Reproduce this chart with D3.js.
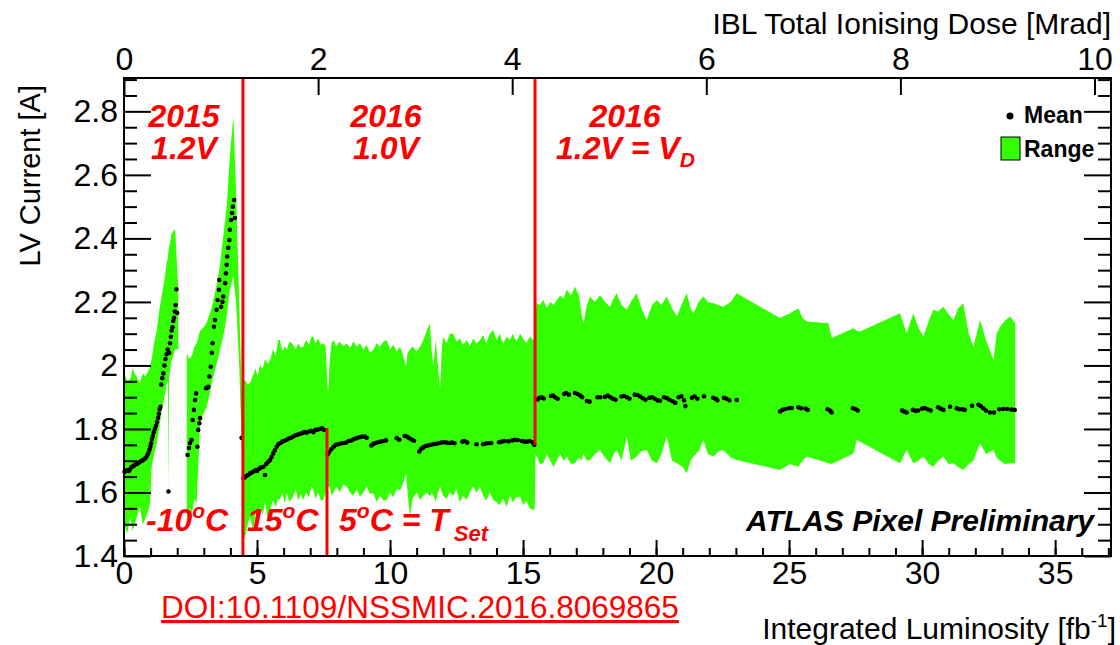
<html>
<head>
  <title>IBL LV current vs integrated luminosity</title>
  <script src="https://d3js.org/d3.v7.min.js"></script>
  <style>
  body { margin: 0; background: #fff; }
  text { font-family: "Liberation Sans", Arial, Helvetica, sans-serif; }
  .ann { fill: #ff0000; font-weight: bold; font-style: italic; font-size: 32px; }
  </style>
</head>
<body>
<div id="chart"></div>
<script>

// axis ticks
var lumiMajor = [0, 5, 10, 15, 20, 25, 30, 35];
var lumiMinor = d3.range(0, 38, 1);
var doseTicks = [0, 2, 4, 6, 8, 10];
var currMajor = [1.4, 1.6, 1.8, 2.0, 2.2, 2.4, 2.6, 2.8];
var currMinor = [1.45, 1.5, 1.55, 1.65, 1.7, 1.75, 1.85, 1.9, 1.95, 2.05, 2.1, 2.15,
                 2.25, 2.3, 2.35, 2.45, 2.5, 2.55, 2.65, 2.7, 2.75, 2.85, 2.9];

// range band (min / max), null = gap
var bandLumi = [0.00,0.12,0.23,0.32,0.41,0.50,0.60,0.70,0.79,0.90,0.98,1.04,1.13,1.23,1.32,1.42,1.52,1.60,1.65,1.67,1.69,1.79,1.92,2.04,
  null,
  2.36,2.45,2.55,2.65,2.73,2.80,2.86,3.00,3.11,3.25,3.36,3.50,3.61,3.75,3.86,3.98,4.11,4.21,4.33,4.42,
  4.50,4.55,4.65,4.74,4.85,4.95,5.02,5.11,5.22,5.30,5.40,5.49,5.60,5.70,5.79,5.86,5.95,6.05,6.12,6.22,6.36,6.45,6.55,6.65,6.74,6.85,6.95,7.05,7.12,7.20,7.30,7.40,7.49,7.58,7.64,7.68,7.72,7.80,7.87,7.98,
  8.10,8.25,8.37,8.50,8.62,8.75,8.87,9.00,9.12,9.25,9.37,9.50,9.62,9.75,9.88,10.00,10.12,10.25,10.38,10.50,10.60,10.66,10.75,10.85,11.00,11.13,11.25,11.38,11.50,11.56,11.63,11.72,11.80,11.88,11.95,
  12.00,12.12,12.25,12.38,12.50,12.62,12.75,12.88,13.00,13.12,13.25,13.38,13.50,13.62,13.75,13.88,14.00,14.12,14.25,14.39,14.50,14.62,14.75,14.89,15.00,15.12,15.25,15.39,15.44,
  15.47,15.52,15.64,15.76,15.90,16.02,16.15,16.27,16.40,16.52,16.64,16.80,16.95,17.10,17.20,17.27,17.40,17.52,17.70,17.89,18.08,18.27,18.40,18.52,18.70,18.90,19.05,19.27,19.45,19.65,19.85,
  20.03,20.20,20.40,20.60,20.78,21.00,21.15,21.30,21.40,21.60,21.78,21.95,22.15,22.35,22.53,22.80,23.03,24.66,25.04,25.35,25.50,25.67,26.48,26.60,27.42,27.54,27.67,
  29.17,29.42,29.67,29.85,30.05,30.25,30.42,30.60,30.80,31.00,31.18,31.35,31.55,31.75,31.93,32.05,32.18,32.40,32.68,32.80,32.93,33.10,33.31,33.50];
var bandLo = [1.50,1.47,1.52,1.48,1.50,1.53,1.555,1.50,1.515,1.54,1.565,1.68,1.72,1.755,1.80,1.86,1.90,1.94,1.95,1.60,1.96,2.015,2.05,2.05,
  null,
  1.51,1.55,1.535,1.58,1.565,1.70,1.82,1.85,1.87,1.92,1.965,2.01,2.05,2.10,2.155,2.24,2.28,2.20,2.00,1.765,
  1.45,1.46,1.50,1.525,1.48,1.54,1.50,1.555,1.53,1.57,1.52,1.545,1.575,1.555,1.58,1.576,1.60,1.565,1.598,1.57,1.587,1.61,1.575,1.595,1.576,1.60,1.585,1.62,1.608,1.58,1.60,1.575,1.576,1.60,1.61,1.618,1.62,1.59,1.598,1.62,
  1.60,1.625,1.618,1.60,1.59,1.61,1.587,1.60,1.62,1.595,1.598,1.57,1.59,1.575,1.576,1.60,1.585,1.61,1.608,1.63,1.66,1.60,1.524,1.58,1.60,1.576,1.59,1.60,1.587,1.60,1.59,1.57,1.60,1.62,1.60,
  1.59,1.58,1.60,1.59,1.61,1.57,1.59,1.576,1.60,1.62,1.60,1.618,1.59,1.575,1.60,1.576,1.57,1.56,1.58,1.555,1.59,1.57,1.585,1.587,1.56,1.575,1.55,1.545,1.55,
  1.72,1.713,1.69,1.692,1.72,1.70,1.68,1.702,1.72,1.70,1.713,1.69,1.692,1.71,1.70,1.723,1.70,1.702,1.72,1.734,1.71,1.692,1.72,1.734,1.70,1.776,1.70,1.713,1.73,1.734,1.70,
  1.692,1.72,1.776,1.70,1.692,1.68,1.66,1.70,1.713,1.73,1.765,1.72,1.713,1.73,1.734,1.71,1.702,1.671,1.69,1.681,1.70,1.713,1.692,1.69,1.723,1.765,1.76,
  1.692,1.734,1.692,1.70,1.713,1.69,1.681,1.70,1.713,1.69,1.692,1.68,1.671,1.69,1.70,1.73,1.755,1.72,1.734,1.71,1.70,1.69,1.692,1.692];
var bandHi = [1.98,1.95,1.955,1.99,1.975,1.96,1.945,1.975,1.965,1.98,1.995,2.02,2.07,2.11,2.17,2.22,2.27,2.32,2.34,2.36,2.37,2.415,2.43,2.24,
  null,
  2.04,2.02,2.03,2.06,2.07,2.09,2.11,2.12,2.135,2.17,2.205,2.26,2.32,2.42,2.50,2.66,2.785,2.55,2.20,1.92,
  1.95,1.955,1.94,1.945,1.97,1.99,1.965,2.00,1.99,2.02,2.005,2.017,2.05,2.03,2.08,2.08,2.045,2.06,2.049,2.075,2.065,2.05,2.07,2.055,2.059,2.08,2.065,2.09,2.091,2.07,2.085,2.065,2.07,2.06,1.95,1.912,2.00,2.07,2.08,2.06,
  2.075,2.06,2.07,2.055,2.075,2.06,2.07,2.05,2.065,2.04,2.049,2.07,2.06,2.075,2.08,2.05,2.065,2.045,2.059,2.03,1.996,2.04,2.05,2.06,2.045,2.059,2.08,2.11,2.133,2.05,1.996,2.08,2.00,1.923,2.06,
  2.09,2.07,2.10,2.10,2.075,2.085,2.065,2.08,2.06,2.085,2.07,2.08,2.095,2.07,2.10,2.112,2.08,2.10,2.07,2.09,2.08,2.10,2.075,2.10,2.085,2.07,2.09,2.08,2.09,
  2.17,2.196,2.19,2.206,2.18,2.20,2.19,2.206,2.22,2.21,2.238,2.22,2.248,2.22,2.16,2.133,2.19,2.217,2.20,2.222,2.20,2.185,2.21,2.227,2.19,2.175,2.20,2.227,2.18,2.143,2.19,
  2.206,2.19,2.217,2.18,2.154,2.20,2.227,2.18,2.164,2.20,2.217,2.20,2.196,2.19,2.185,2.20,2.227,2.149,2.164,2.18,2.15,2.138,2.133,2.086,2.117,2.11,2.107,
  2.164,2.101,2.164,2.12,2.091,2.14,2.175,2.17,2.185,2.16,2.143,2.18,2.196,2.10,2.059,2.10,2.143,2.08,2.017,2.10,2.122,2.14,2.154,2.133];

// mean current per fill
var meanLumi = [0.02,0.08,0.12,0.18,0.22,0.28,0.33,0.38,0.43,0.48,0.53,0.58,0.63,0.68,0.73,0.78,0.83,0.88,0.92,0.96,0.99,1.02,1.05,1.08,1.12,1.16,1.20,1.24,1.28,1.31,1.34,1.37,1.40,1.44,1.48,1.52,1.56,1.60,1.64,1.67,1.70,1.73,1.76,1.79,1.82,1.85,1.88,1.91,1.94,1.97,2.00,
  2.39,2.44,2.48,2.54,2.58,2.63,2.67,2.71,2.76,2.79,2.83,2.86,3.08,3.13,3.17,3.21,3.26,3.30,3.33,3.38,3.42,3.48,3.52,3.57,3.58,3.65,3.70,3.73,3.80,3.83,3.86,3.88,3.92,3.96,3.98,4.02,4.06,4.09,4.14,4.17,
  4.42,4.49,4.55,4.60,4.66,4.74,4.80,4.88,4.95,5.00,5.08,5.15,5.24,5.30,5.35,5.42,5.49,5.55,5.61,5.67,5.74,5.80,5.88,5.95,6.03,6.12,6.20,6.28,6.36,6.45,6.53,6.62,6.70,6.78,6.86,6.95,7.03,7.12,7.20,7.28,7.36,7.44,7.52,
  7.66,7.72,7.80,7.88,7.96,8.05,8.15,8.25,8.35,8.45,8.55,8.65,8.75,8.85,8.95,9.05,9.12,9.30,9.37,9.45,9.55,9.65,9.75,9.85,10.25,10.35,10.55,10.63,10.72,10.82,10.90,
  11.10,11.18,11.25,11.33,11.42,11.52,11.62,11.72,11.82,11.92,12.02,12.12,12.22,12.32,12.42,12.72,12.80,12.90,13.25,13.50,13.60,13.70,13.80,14.10,14.20,14.30,14.45,14.60,14.70,14.80,14.95,15.05,15.15,15.25,15.35,15.42,
  15.55,15.62,15.70,15.78,16.05,16.12,16.20,16.30,16.55,16.62,16.72,16.95,17.05,17.15,17.22,17.40,17.50,17.80,17.90,18.08,18.18,18.28,18.38,18.48,18.70,18.80,18.90,19.00,19.20,19.30,19.40,19.50,19.60,19.75,19.85,19.95,
  20.05,20.15,20.30,20.40,20.50,20.62,20.72,20.85,20.95,21.05,21.10,21.35,21.45,21.55,21.80,22.15,22.25,22.30,22.55,22.65,22.75,23.03,
  24.66,24.75,24.85,25.00,25.10,25.35,25.45,25.62,25.70,26.45,26.55,26.60,27.40,27.50,27.58,
  29.25,29.33,29.42,29.65,29.75,29.85,30.00,30.10,30.20,30.32,30.60,30.70,30.80,31.05,31.30,31.40,31.50,31.60,31.88,32.12,32.20,32.30,32.40,32.55,32.70,32.90,33.05,33.20,33.35,33.48];
var meanVal = [1.665,1.668,1.670,1.668,1.672,1.680,1.682,1.685,1.688,1.690,1.692,1.695,1.698,1.700,1.703,1.706,1.710,1.718,1.725,1.735,1.745,1.755,1.768,1.778,1.790,1.800,1.810,1.822,1.835,1.848,1.862,1.870,1.940,1.960,1.975,2.000,2.020,2.035,2.050,1.603,2.040,2.070,2.090,2.110,2.120,2.140,2.150,2.170,2.190,2.240,2.165,
  1.718,1.740,1.755,1.765,1.828,1.860,1.891,1.912,1.744,1.797,1.818,1.834,1.928,1.930,1.933,1.965,1.996,2.040,2.070,2.122,2.143,2.175,2.206,2.238,2.269,2.185,2.200,2.217,2.259,2.290,2.317,2.343,2.370,2.395,2.427,2.458,2.480,2.500,2.521,2.464,
  1.772,1.645,1.648,1.652,1.655,1.660,1.663,1.667,1.671,1.668,1.675,1.679,1.681,1.655,1.690,1.697,1.702,1.712,1.723,1.733,1.744,1.752,1.756,1.760,1.763,1.766,1.770,1.772,1.776,1.780,1.782,1.785,1.787,1.790,1.788,1.792,1.794,1.790,1.797,1.798,1.800,1.802,1.797,
  1.720,1.728,1.737,1.744,1.750,1.752,1.754,1.756,1.757,1.762,1.764,1.768,1.771,1.774,1.776,1.776,1.772,1.748,1.753,1.756,1.758,1.760,1.762,1.764,1.771,1.766,1.778,1.776,1.771,1.766,1.763,
  1.729,1.738,1.742,1.746,1.748,1.750,1.752,1.753,1.755,1.757,1.758,1.757,1.756,1.757,1.755,1.760,1.762,1.757,1.752,1.752,1.754,1.755,1.756,1.758,1.760,1.762,1.761,1.764,1.766,1.765,1.762,1.760,1.760,1.762,1.758,1.750,
  1.893,1.898,1.900,1.896,1.904,1.906,1.900,1.895,1.910,1.913,1.908,1.913,1.910,1.905,1.900,1.888,1.886,1.900,1.900,1.901,1.905,1.900,1.895,1.892,1.902,1.904,1.900,1.895,1.908,1.907,1.902,1.897,1.892,1.898,1.900,1.895,
  1.890,1.889,1.900,1.897,1.892,1.887,1.882,1.900,1.903,1.890,1.872,1.898,1.902,1.895,1.903,1.898,1.894,1.890,1.898,1.895,1.890,1.891,
  1.855,1.860,1.863,1.865,1.866,1.868,1.865,1.864,1.860,1.862,1.857,1.852,1.865,1.862,1.858,
  1.858,1.855,1.852,1.860,1.857,1.858,1.864,1.866,1.862,1.858,1.868,1.864,1.860,1.870,1.865,1.862,1.862,1.860,1.873,1.876,1.872,1.865,1.858,1.852,1.852,1.862,1.863,1.863,1.861,1.860];

// period boundaries (red lines): lumi, current from, current to
var boundLumi = [4.47, 15.45, 7.63];
var boundLo = [1.4, 1.75, 1.4];
var boundHi = [2.905, 2.905, 1.803];

var W = 1120, H = 645;
var L = 124, R = 1111, T = 78, B = 556;
var green = "#33ff00";

var svg = d3.select("#chart").append("svg").attr("width", W).attr("height", H);

var x = d3.scaleLinear().domain([0, 37.1]).range([L, R]);
var xDose = d3.scaleLinear().domain([0, 10.17]).range([L, R]);
var y = d3.scaleLinear().domain([1.4, 2.905]).range([B, T]);

var band = bandLumi.map(function(d, i) { return {x: d, lo: bandLo[i], hi: bandHi[i]}; });
var area = d3.area()
  .defined(function(d) { return d.x != null; })
  .x(function(d) { return x(d.x); })
  .y0(function(d) { return y(d.lo); })
  .y1(function(d) { return y(d.hi); });

svg.append("path").datum(band).attr("d", area).attr("fill", green).attr("stroke", "none");

// mean markers
svg.selectAll("circle.mean").data(meanLumi).enter().append("circle")
  .attr("class", "mean")
  .attr("cx", function(d) { return x(d); })
  .attr("cy", function(d, i) { return y(meanVal[i]); })
  .attr("r", 2.3)
  .attr("fill", "black");

// red boundaries
svg.selectAll("line.bound").data(boundLumi).enter().append("line")
  .attr("x1", function(d) { return x(d); }).attr("x2", function(d) { return x(d); })
  .attr("y1", function(d, i) { return y(boundLo[i]); })
  .attr("y2", function(d, i) { return y(boundHi[i]); })
  .attr("stroke", "#ff0000").attr("stroke-width", 3);

// axes
function styleAxis(g, fs) {
  g.select(".domain").remove();
  g.selectAll(".tick line").attr("stroke", "black").attr("stroke-width", 2);
  g.selectAll(".tick text").attr("font-size", fs).attr("fill", "black")
    .attr("font-family", "'Liberation Sans', Arial, Helvetica, sans-serif");
}

var gb = svg.append("g").attr("transform", "translate(0," + B + ")")
  .call(d3.axisBottom(x).tickValues(lumiMinor.filter(function(d) { return x(d) < R - 1; })).tickSize(-8).tickFormat(""));
styleAxis(gb, 32);
var gb2 = svg.append("g").attr("transform", "translate(0," + B + ")")
  .call(d3.axisBottom(x).tickValues(lumiMajor).tickSize(-16).tickPadding(5).tickFormat(d3.format("d")));
styleAxis(gb2, 32);

var gt = svg.append("g").attr("transform", "translate(0," + T + ")")
  .call(d3.axisTop(xDose).tickValues(doseTicks).tickSize(-17).tickPadding(8).tickFormat(d3.format("d")));
styleAxis(gt, 32);

var gl = svg.append("g").attr("transform", "translate(" + L + ",0)")
  .call(d3.axisLeft(y).tickValues(currMinor).tickSize(-13).tickFormat(""));
styleAxis(gl, 32);
var gl2 = svg.append("g").attr("transform", "translate(" + L + ",0)")
  .call(d3.axisLeft(y).tickValues(currMajor).tickSize(-27).tickPadding(6).tickFormat(d3.format("~g")));
styleAxis(gl2, 32);

var gr = svg.append("g").attr("transform", "translate(" + R + ",0)")
  .call(d3.axisRight(y).tickValues(currMinor).tickSize(-13).tickFormat(""));
styleAxis(gr, 32);
var gr2 = svg.append("g").attr("transform", "translate(" + R + ",0)")
  .call(d3.axisRight(y).tickValues(currMajor).tickSize(-27).tickFormat(""));
styleAxis(gr2, 32);

// frame
svg.append("rect").attr("x", L).attr("y", T).attr("width", R - L).attr("height", B - T)
  .attr("fill", "none").attr("stroke", "black").attr("stroke-width", 2);

// titles
svg.append("text").attr("x", 1111).attr("y", 34).attr("text-anchor", "end")
  .attr("font-size", 30).text("IBL Total Ionising Dose [Mrad]");

var xt = svg.append("text").attr("x", 1116).attr("y", 639).attr("text-anchor", "end").attr("font-size", 30);
xt.append("tspan").text("Integrated Luminosity [fb");
xt.append("tspan").attr("font-size", 19).attr("dy", -12).text("-1");
xt.append("tspan").attr("dy", 12).text("]");

svg.append("text").attr("transform", "translate(40,85) rotate(-90)").attr("text-anchor", "end")
  .attr("font-size", 29).text("LV Current [A]");

svg.append("text").attr("x", 420).attr("y", 618).attr("text-anchor", "middle")
  .attr("font-size", 31.5).attr("fill", "#ff0000").attr("text-decoration", "underline")
  .text("DOI:10.1109/NSSMIC.2016.8069865");

// period labels
svg.append("text").attr("class", "ann").attr("x", 184).attr("y", 127).attr("text-anchor", "middle").text("2015");
svg.append("text").attr("class", "ann").attr("x", 184).attr("y", 159).attr("text-anchor", "middle").text("1.2V");
svg.append("text").attr("class", "ann").attr("x", 386).attr("y", 127).attr("text-anchor", "middle").text("2016");
svg.append("text").attr("class", "ann").attr("x", 386).attr("y", 159).attr("text-anchor", "middle").text("1.0V");
svg.append("text").attr("class", "ann").attr("x", 625).attr("y", 127).attr("text-anchor", "middle").text("2016");
var vd = svg.append("text").attr("class", "ann").attr("x", 556).attr("y", 159);
vd.append("tspan").text("1.2V = V");
vd.append("tspan").attr("font-size", 21).attr("dy", 8).text("D");

function tempLabel(x0, s) {
  var t = svg.append("text").attr("class", "ann").attr("x", x0).attr("y", 531);
  t.append("tspan").text(s);
  t.append("tspan").attr("font-size", 21).attr("dy", -13).text("o");
  t.append("tspan").attr("dy", 13).text("C");
  return t;
}
tempLabel(146, "-10");
tempLabel(247, "15");
var ts = tempLabel(339, "5");
ts.append("tspan").text(" = T");
ts.append("tspan").attr("font-size", 22).attr("dx", 5).attr("dy", 10).text("Set");

svg.append("text").attr("x", 1094).attr("y", 531).attr("text-anchor", "end")
  .attr("font-size", 30).attr("font-weight", "bold").attr("font-style", "italic")
  .text("ATLAS Pixel Preliminary");

// legend
svg.append("circle").attr("cx", 1010).attr("cy", 116).attr("r", 3.5).attr("fill", "black");
svg.append("text").attr("x", 1024).attr("y", 123).attr("font-size", 23).attr("font-weight", "bold").text("Mean");
svg.append("rect").attr("x", 1001).attr("y", 137).attr("width", 19).attr("height", 23)
  .attr("fill", green).attr("stroke", "black").attr("stroke-width", 1);
svg.append("text").attr("x", 1024).attr("y", 157).attr("font-size", 23).attr("font-weight", "bold").text("Range");

</script>
</body>
</html>
